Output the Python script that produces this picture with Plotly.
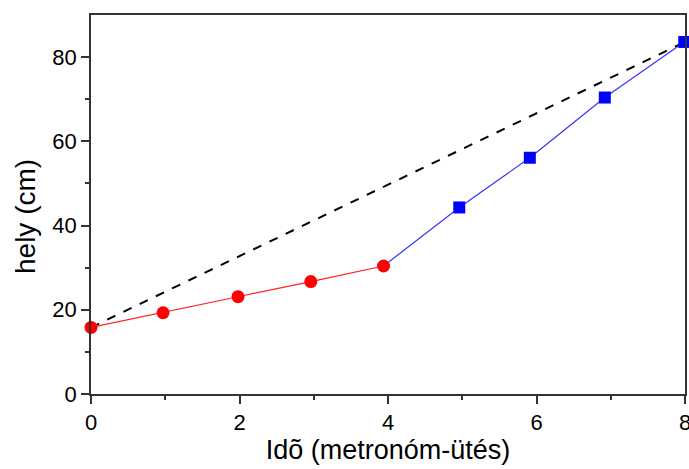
import plotly.graph_objects as go

red_x = [0, 0.97, 1.98, 2.96, 3.94]
red_y = [15.8, 19.3, 23.1, 26.7, 30.4]
blue_x = [4.96, 5.91, 6.92, 7.99]
blue_y = [44.3, 56.1, 70.4, 83.6]
dash_x = [0, 8]
dash_y = [15.8, 83.6]

x_ticks = [0, 2, 4, 6, 8]
y_ticks = [0, 20, 40, 60, 80]

FONT = "Liberation Sans, Arial"

fig = go.Figure()
fig.add_trace(go.Scatter(x=dash_x, y=dash_y, mode="lines",
                         line=dict(color="black", width=2, dash="dash"), cliponaxis=False))
fig.add_trace(go.Scatter(x=[red_x[-1]] + blue_x, y=[red_y[-1]] + blue_y, mode="lines",
                         line=dict(color="#3333ff", width=1.2), cliponaxis=False))
fig.add_trace(go.Scatter(x=red_x, y=red_y, mode="lines+markers",
                         line=dict(color="#ff2020", width=1.2),
                         marker=dict(color="#ff0000", size=13, symbol="circle"), cliponaxis=False))
fig.add_trace(go.Scatter(x=blue_x, y=blue_y, mode="markers",
                         marker=dict(color="#0000ff", size=12, symbol="square"), cliponaxis=False))

axis_common = dict(showgrid=False, zeroline=False, showline=True, linecolor="#333333", linewidth=1.5,
                   mirror=True, ticks="outside", ticklen=8, tickwidth=1.5, tickcolor="#333333",
                   ticklabeloverflow="allow", automargin=False,
                   tickfont=dict(family=FONT, size=22, color="black"))

fig.update_layout(
    width=689, height=469,
    margin=dict(l=91, r=4, t=15, b=75),
    paper_bgcolor="white", plot_bgcolor="white",
    showlegend=False,
    xaxis=dict(range=[0, 8], tickvals=x_ticks,
               minor=dict(ticks="outside", ticklen=4, tickwidth=1.5, tickcolor="#333333", dtick=1),
               title=dict(text="Idõ (metronóm-ütés)", font=dict(family=FONT, size=27, color="black"), standoff=6),
               **axis_common),
    yaxis=dict(range=[0, 90], tickvals=y_ticks,
               minor=dict(ticks="outside", ticklen=4, tickwidth=1.5, tickcolor="#333333", tickvals=[10, 30, 50, 70]),
               **axis_common),
    annotations=[dict(text="hely (cm)", textangle=-90, xref="paper", yref="paper",
                      x=0, y=0.467, xanchor="center", yanchor="middle", xshift=-66, showarrow=False,
                      font=dict(family=FONT, size=28, color="black"))],
)

fig.write_html("out.html")
